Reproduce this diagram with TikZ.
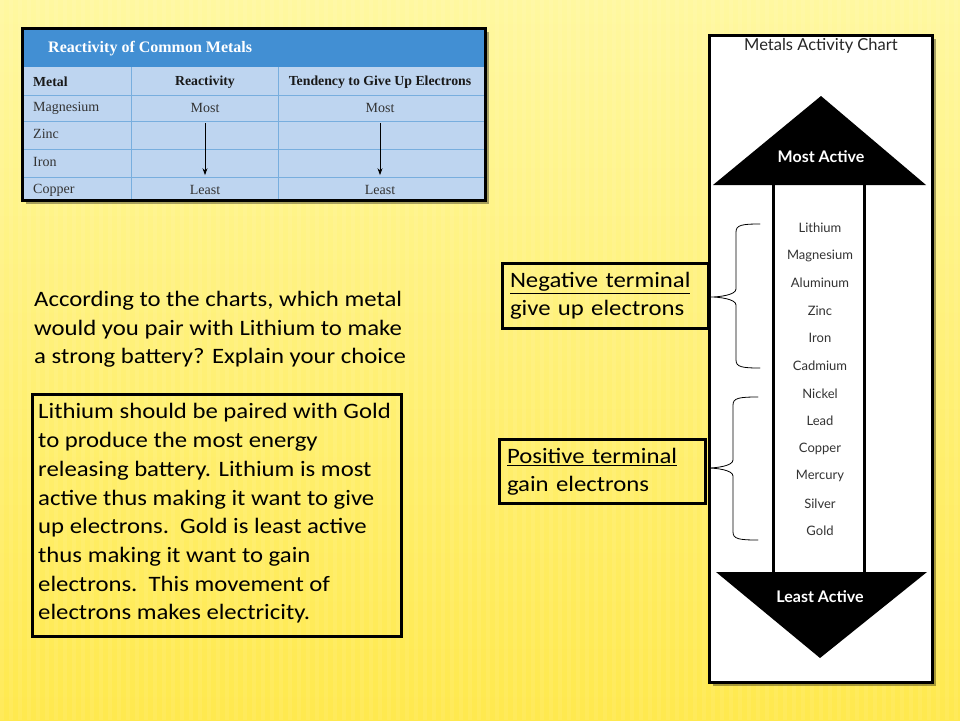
\documentclass[tikz,border=0pt]{standalone}
\usepackage{fontspec}
\setmainfont[FakeStretch=1.125]{Carlito}
\newfontfamily\tabfont{Liberation Serif}
\newfontfamily\kartefont{Lato}
\usetikzlibrary{arrows.meta}
\begin{document}
\begin{tikzpicture}[x=1pt, y=-1pt,
    kasten/.style={draw=black, line width=3pt},
    schatten/.style={fill=black, opacity=0.35},
    frage/.style={font=\fontsize{22}{28.7}\selectfont, align=left, inner sep=0pt, anchor=north west},
    etikett/.style={kasten, font=\fontsize{22}{28}\selectfont, align=left,
      inner xsep=7.5pt, inner ysep=0pt, text width=191pt, minimum height=65pt},
    zelle/.style={font=\tabfont\fontsize{14}{16}\selectfont, text=black!80, inner sep=0pt},
    kopf/.style={zelle, font=\tabfont\bfseries\fontsize{13.8}{16}\selectfont, text=black!90},
    metall/.style={font=\kartefont\fontsize{13}{15}\selectfont, text=black!80, inner sep=0pt},
    pfeiltext/.style={font=\kartefont\bfseries\fontsize{16}{18}\selectfont, text=white, inner sep=0pt},
    klammer/.style={line width=0.8pt, line cap=round},
    tabpfeil/.style={-{Stealth[length=7pt, width=5pt]}, line width=1pt, shorten <=10pt, shorten >=10pt},
  ]
  \definecolor{hellgelb}{RGB}{255,248,160}
  \definecolor{sattgelb}{RGB}{255,233,78}
  \definecolor{tabkopf}{RGB}{66,143,211}
  \definecolor{tabfeld}{RGB}{190,213,240}
  \definecolor{tablinie}{RGB}{120,174,222}

  % geschweifte Klammer nach links:
  % \geschweift{oben}{Spitze-y}{unten}{Enden-x}{Ruecken-x}{Spitze-x}
  \newcommand{\geschweift}[6]{%
    \draw[klammer] (#4,#1) .. controls (#5+6,#1) and (#5,#1+1) .. (#5,#1+8)
      -- (#5,#2-8) .. controls (#5,#2-2) and (#6+8,#2) .. (#6,#2)
      .. controls (#6+8,#2) and (#5,#2+2) .. (#5,#2+8)
      -- (#5,#3-8) .. controls (#5,#3-1) and (#5+6,#3) .. (#4,#3);}

  \useasboundingbox (0,0) rectangle (960,720);
  % Hintergrund mit feinen Streifen
  \shade[top color=hellgelb, bottom color=sattgelb] (0,0) rectangle (960,720);
  \foreach \x in {0,9,...,954} \fill[white, opacity=0.07] (\x,0) rectangle ++(4,720);

  % ---------------- Tabelle oben links ------------------------------
  \fill[schatten] (26,32) rectangle (489,204);
  \fill[tabfeld] (22,28) rectangle (485,200);
  \fill[tabkopf] (22,28) rectangle (485,67);
  \draw[tablinie, line width=1pt] (131,67) -- (131,200) (278,67) -- (278,200);
  \foreach \y in {95,121,149,177} \draw[tablinie, line width=1pt] (22,\y) -- (485,\y);
  \draw[kasten] (22,28) rectangle (485,200);
  \node[anchor=west, font=\tabfont\bfseries\fontsize{16}{18}\selectfont, text=white,
    inner sep=0pt] (tabtitel) at (48,49) {Reactivity of Common Metals};
  \node[kopf, anchor=west] (kmetall) at (33,82) {Metal};
  \node[kopf] (kreakt) at (205,82) {Reactivity};
  \node[kopf] (ktendenz) at (380,82) {Tendency to Give Up Electrons};
  \node[zelle, anchor=west] (magnesium) at (33,108) {Magnesium};
  \node[zelle, anchor=west] (zink) at (33,134) {Zinc};
  \node[zelle, anchor=west] (eisen) at (33,162) {Iron};
  \node[zelle, anchor=west] (kupfer) at (33,190) {Copper};
  \node[zelle] (rmeist) at (205,108) {Most};
  \node[zelle] (rwenig) at (205,190) {Least};
  \node[zelle] (tmeist) at (380,108) {Most};
  \node[zelle] (twenig) at (380,190) {Least};
  \draw[tabpfeil] (rmeist) -- (rwenig);
  \draw[tabpfeil] (tmeist) -- (twenig);

  % ---------------- Frage und Antwort -------------------------------
  \node[frage] (frage) at (34,291) {According to the charts, which metal\\
    would you pair with Lithium to make\\a strong battery? Explain your choice};
  \node[kasten, anchor=north west, minimum width=369pt, minimum height=242pt,
    inner sep=0pt] (antwortkasten) at (30.5,392.5) {};
  \node[frage] (antwort) at (38,403.5) {Lithium should be paired with Gold\\
    to produce the most energy\\releasing battery. Lithium is most\\
    active thus making it want to give\\up electrons.\ \ Gold is least active\\
    thus making it want to gain\\electrons.\ \ This movement of\\
    electrons makes electricity.};

  % ---------------- Spannungsreihe rechts ---------------------------
  \fill[schatten] (713,39) rectangle (936,686);
  \draw[kasten, fill=white] (709,35) rectangle (932,682);
  \node[font=\kartefont\fontsize{16.5}{18}\selectfont, text=black!85, inner sep=0pt]
    (karttitel) at (821,46) {Metals Activity Chart};
  % Pfeil: Spitze oben, Schaft, Spitze unten
  \fill (821,96) -- (926,185) -- (713,185) -- cycle;
  \node[pfeiltext] (meist) at (821,157) {Most Active};
  \draw[line width=3pt] (773,185) -- (773,572) (864,185) -- (864,572);
  \fill (716,572) -- (927,572) -- (820,658) -- cycle;
  \node[pfeiltext] (wenigst) at (820,597) {Least Active};
  \foreach \m [count=\i] in {Lithium,Magnesium,Aluminum,Zinc,Iron,Cadmium,
      Nickel,Lead,Copper,Mercury,Silver,Gold}
    \node[metall] (m\i) at (820,{200.45+27.55*\i}) {\m};

  % Klammern und Beschriftung der Pole
  \geschweift{224}{297}{368}{760}{736}{711}
  \geschweift{397}{468}{540}{758}{733}{708}
  \node[etikett] (minus) at (605.5,296) {\underline{Negative terminal}\\give up electrons};
  \node[etikett, minimum height=64pt] (plus) at (602.5,471.5) {\underline{Positive terminal}\\gain electrons};
\end{tikzpicture}
\end{document}
